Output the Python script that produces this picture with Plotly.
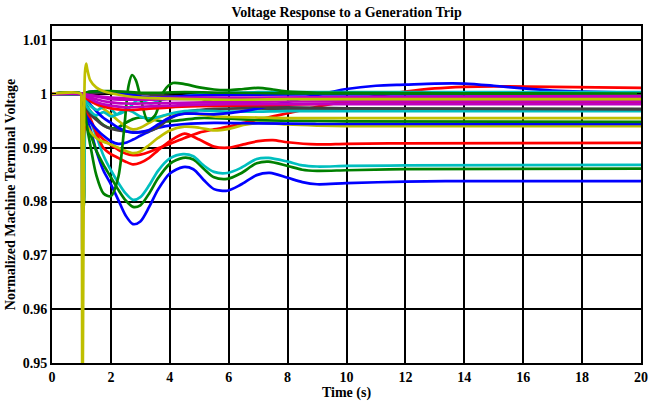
import plotly.graph_objects as go

# Time axis / voltage axis ticks
x_ticks = [0, 2, 4, 6, 8, 10, 12, 14, 16, 18, 20]
y_ticks = [0.95, 0.96, 0.97, 0.98, 0.99, 1.0, 1.01]
y_tick_text = ["0.95", "0.96", "0.97", "0.98", "0.99", "1", "1.01"]

# Machine terminal voltage traces, (time [s], per-unit voltage)
blue_low = [(0, 1.0), (0.98, 1.0), (1.0, 0.9995), (1.03, 0.9705), (1.08, 0.990), (1.15, 0.9955),
            (1.3, 0.9935), (1.5, 0.9895), (1.75, 0.9857), (2.0, 0.9832), (2.25, 0.9803), (2.5, 0.9774),
            (2.75, 0.9758), (3.0, 0.9763), (3.3, 0.9790), (3.6, 0.9822), (4.0, 0.9852), (4.45, 0.9864),
            (4.8, 0.9860), (5.15, 0.9840), (5.5, 0.9823), (5.95, 0.9820), (6.4, 0.9831), (6.95, 0.9849),
            (7.4, 0.9853), (8.0, 0.9844), (8.5, 0.9836), (9.0, 0.9832), (10, 0.9834), (12, 0.9837),
            (14, 0.9838), (20, 0.9838)]
green_low = [(0, 1.0), (0.98, 1.0), (1.0, 0.9995), (1.04, 0.9775), (1.09, 0.9800), (1.15, 0.9935),
             (1.3, 0.9925), (1.5, 0.9895), (1.75, 0.9868), (2.0, 0.9845), (2.25, 0.9822), (2.5, 0.9802),
             (2.75, 0.9790), (3.0, 0.9793), (3.3, 0.9815), (3.6, 0.9843), (4.0, 0.9870), (4.45, 0.9881),
             (4.8, 0.9878), (5.15, 0.9861), (5.5, 0.9845), (5.95, 0.9842), (6.4, 0.9852), (6.95, 0.9871),
             (7.35, 0.9874), (8.0, 0.9866), (8.5, 0.9859), (9.0, 0.9857), (10, 0.9858), (12, 0.9860),
             (20, 0.9861)]
cyan_low = [(0, 1.0), (0.98, 1.0), (1.0, 0.9995), (1.05, 0.979), (1.1, 0.986), (1.17, 0.9965),
            (1.3, 0.9950), (1.5, 0.9922), (1.75, 0.9885), (2.0, 0.9858), (2.25, 0.9835), (2.5, 0.9815),
            (2.75, 0.9803), (3.0, 0.9808), (3.3, 0.9830), (3.6, 0.9857), (4.0, 0.9880), (4.45, 0.9888),
            (4.8, 0.9884), (5.15, 0.9867), (5.5, 0.9855), (5.95, 0.9853), (6.4, 0.9862), (6.95, 0.9879),
            (7.35, 0.9881), (8.0, 0.9874), (8.5, 0.9867), (9.0, 0.9865), (10, 0.9866), (12, 0.9867),
            (20, 0.9868)]
red_low = [(0, 1.0), (0.98, 1.0), (1.0, 0.9995), (1.04, 0.9875), (1.09, 0.993), (1.2, 0.9965),
           (1.35, 0.9948), (1.5, 0.9928), (1.75, 0.9899), (2.0, 0.9888), (2.25, 0.9881), (2.5, 0.9874),
           (2.75, 0.9869), (3.0, 0.9872), (3.3, 0.9881), (3.6, 0.9895), (4.0, 0.9912), (4.5, 0.9926),
           (5.0, 0.9915), (5.5, 0.9902), (6.0, 0.9900), (6.5, 0.9906), (7.0, 0.9912), (7.5, 0.9914),
           (8.0, 0.9910), (9.0, 0.9906), (10, 0.9907), (12, 0.9908), (20, 0.9909)]
red_top = [(0, 1.0), (0.98, 1.0), (1.05, 0.9985), (1.15, 0.9970), (1.3, 0.9950), (1.5, 0.9932),
           (1.75, 0.9915), (2.0, 0.9905), (2.25, 0.9896), (2.5, 0.9889), (2.75, 0.9886), (3.0, 0.9887),
           (3.3, 0.9892), (3.6, 0.9899), (4.0, 0.9907), (4.5, 0.9918), (5.0, 0.9928), (5.5, 0.9934),
           (6.0, 0.9939), (6.5, 0.9946), (7.0, 0.9952), (7.5, 0.9958), (8.0, 0.9964), (9.0, 0.9976),
           (10, 0.9986), (11, 0.9996), (12, 1.0004), (13, 1.0010), (14, 1.0013), (15, 1.0014),
           (17, 1.0013), (20, 1.0011)]
yellow_low = [(0, 1.0), (0.98, 1.0), (1.0, 0.9995), (1.04, 0.9957), (1.15, 0.9945), (1.3, 0.9930),
              (1.5, 0.9918), (1.75, 0.9911), (2.0, 0.9906), (2.25, 0.9900), (2.5, 0.9894), (2.75, 0.9890),
              (3.0, 0.9893), (3.3, 0.9905), (3.6, 0.9918), (4.0, 0.9932), (4.5, 0.9939), (5.0, 0.9937),
              (5.5, 0.9932), (6.0, 0.9935), (6.5, 0.9942), (7.0, 0.9946), (7.5, 0.9945), (8.0, 0.9943),
              (9.0, 0.9941), (10, 0.9940), (20, 0.9940)]
blue_mid = [(0, 1.0), (1.0, 1.0), (1.05, 0.9975), (1.15, 0.9960), (1.3, 0.9948), (1.5, 0.9935),
            (1.75, 0.9922), (2.0, 0.9912), (2.25, 0.9907), (2.5, 0.9909), (2.75, 0.9915), (3.0, 0.9922),
            (3.3, 0.9930), (3.6, 0.9937), (4.0, 0.9941), (4.5, 0.9944), (5.5, 0.9946), (7.0, 0.9945),
            (9, 0.9944), (20, 0.9944)]
green_mid = [(0, 1.0), (1.0, 1.0), (1.1, 0.9985), (1.3, 0.9968), (1.5, 0.9955), (1.75, 0.9942),
             (2.0, 0.9936), (2.25, 0.9938), (2.5, 0.9946), (2.75, 0.9953), (3.0, 0.9956), (3.3, 0.9954),
             (3.6, 0.9950), (4.0, 0.9949), (4.5, 0.9952), (5.0, 0.9955), (6.0, 0.9954), (7.0, 0.9951),
             (8.0, 0.9950), (10, 0.9949), (20, 0.9948)]
yellow_mid = [(0, 1.0), (1.0, 1.0), (1.15, 0.9992), (1.3, 0.9987), (1.5, 0.9981), (1.75, 0.9972),
              (2.0, 0.9962), (2.25, 0.9950), (2.5, 0.9940), (2.75, 0.9934), (3.0, 0.9937), (3.3, 0.9946),
              (3.6, 0.9955), (4.0, 0.9962), (4.5, 0.9965), (5.0, 0.9962), (5.5, 0.9958), (6.0, 0.9957),
              (7.0, 0.9956), (8, 0.9955), (20, 0.9955)]
gray_mid = [(0, 1.0), (1.0, 1.0), (1.15, 0.9975), (1.3, 0.9962), (1.5, 0.9952), (1.75, 0.9941),
            (2.0, 0.9935), (2.25, 0.9932), (2.5, 0.9930), (2.75, 0.9929), (3.0, 0.9929), (3.3, 0.9931),
            (3.6, 0.9938), (4.0, 0.9954), (4.5, 0.9966), (5.0, 0.9970), (5.5, 0.9972), (6.5, 0.9973),
            (8, 0.9972), (20, 0.9972)]
cyan_mid = [(0, 1.0), (1.0, 1.0), (1.08, 0.9985), (1.2, 0.9975), (1.35, 0.9965), (1.5, 0.9960),
            (1.75, 0.9966), (2.0, 0.9958), (2.25, 0.9963), (2.5, 0.9971), (2.75, 0.9966), (3.0, 0.9958),
            (3.3, 0.9954), (3.6, 0.9957), (4.0, 0.9963), (4.5, 0.9968), (5.0, 0.9969), (6.0, 0.9967),
            (7.0, 0.9967), (8, 0.9968), (20, 0.9968)]
blue_top = [(0, 1.0), (1.0, 1.0), (1.05, 0.9995), (1.15, 0.9990), (1.3, 0.9980), (1.5, 0.9968),
            (1.75, 0.9955), (2.0, 0.9946), (2.25, 0.9937), (2.5, 0.9931), (2.75, 0.9928), (3.0, 0.9929),
            (3.3, 0.9933), (3.6, 0.9943), (4.0, 0.9956), (4.5, 0.9963), (5.0, 0.9963), (5.5, 0.9962),
            (6.0, 0.9964), (6.5, 0.9968), (7.0, 0.9973), (7.5, 0.9979), (8.0, 0.9985), (9.0, 0.9998),
            (10, 1.0009), (11, 1.0015), (12, 1.0017), (13, 1.0019), (14, 1.0019), (15, 1.0015),
            (16, 1.0010), (17, 1.0006), (18, 1.0004), (20, 1.0002)]
cyan_hi = [(0, 1.0), (1.0, 1.0), (1.1, 0.9990), (1.3, 0.9978), (1.53, 0.9970), (1.87, 0.9979),
           (2.2, 0.9962), (2.55, 0.9970), (2.9, 0.9988), (3.33, 0.9982), (3.8, 0.9990), (4.5, 0.9996),
           (5.5, 1.0001), (7, 1.0003), (20, 1.0003)]
green_osc = [(0, 1.0), (1.0, 1.0), (1.08, 0.9980), (1.2, 0.9935), (1.3, 0.9905), (1.5, 0.9850),
             (1.75, 0.9815), (2.0, 0.9810), (2.25, 0.9845), (2.45, 0.9935), (2.6, 1.0015), (2.72, 1.0035),
             (2.85, 1.0025), (3.0, 0.9995), (3.25, 0.9950), (3.5, 0.9960), (3.8, 1.0005), (4.1, 1.0020),
             (4.5, 1.0018), (5.0, 1.0012), (5.5, 1.0008), (6.0, 1.0007), (6.5, 1.0009), (7.0, 1.0011),
             (7.5, 1.0008), (8.0, 1.0004), (9.0, 1.0002), (10, 1.0002), (14, 1.0001), (20, 1.0000)]
gray_hi = [(0, 1.0), (1.0, 1.0), (1.5, 1.0002), (2.0, 1.0004), (2.5, 1.0003), (3.0, 1.0000),
           (4.0, 0.9996), (5.0, 0.9992), (5.5, 0.9984), (6.0, 0.9978), (7, 0.9976), (8, 0.9975),
           (10, 0.9973), (20, 0.9971)]
blue_hi = [(0, 1.0), (1.0, 1.0), (1.2, 1.0003), (1.6, 1.0005), (2.0, 1.0003), (2.5, 1.0000),
           (3.0, 0.9995), (3.5, 0.9993), (4.5, 0.9996), (6, 0.9998), (10, 0.9999), (20, 0.9999)]
green_hi = [(0, 1.0), (1.0, 1.0), (1.3, 1.0004), (2.0, 1.0005), (3.0, 1.0002), (4.5, 1.0003),
            (6, 1.0002), (8, 1.0001), (20, 1.0000)]
red_band = [(0, 1.0), (1.0, 1.0), (1.15, 0.9992), (1.5, 0.9981), (2.0, 0.9973), (2.5, 0.9970),
            (3.0, 0.9971), (4.0, 0.9975), (5, 0.9977), (6, 0.9978), (8, 0.9980), (10, 0.9982), (20, 0.9983)]
magenta_a = [(0, 1.0), (1.0, 1.0), (1.2, 0.9994), (1.5, 0.9985), (2.0, 0.9978), (2.5, 0.9975),
             (3.0, 0.9976), (4.0, 0.9978), (5, 0.9980), (7, 0.9981), (10, 0.9981), (20, 0.9981)]
magenta_b = [(0, 1.0), (1.0, 1.0), (1.2, 0.9996), (1.5, 0.9990), (2.0, 0.9984), (2.5, 0.9982),
             (3.0, 0.9982), (4.0, 0.9983), (6, 0.9985), (10, 0.9986), (20, 0.9986)]
magenta_c = [(0, 1.0), (1.0, 1.0), (1.2, 0.9998), (1.5, 0.9995), (2.0, 0.9990), (3.0, 0.9989),
             (4.0, 0.9990), (6, 0.9992), (10, 0.9994), (20, 0.9996)]
magenta_d = [(0, 1.0), (1.0, 1.0), (1.3, 0.9997), (2.0, 0.9993), (3.0, 0.9992), (5, 0.9993),
             (10, 0.9992), (20, 0.9992)]
yellow_hi = [(0, 1.0), (0.98, 1.0), (1.0, 0.998), (1.03, 0.93), (1.07, 0.975), (1.12, 1.0040),
             (1.16, 1.0056), (1.2, 1.0045), (1.3, 1.0025), (1.5, 1.0012), (1.75, 1.0005), (2.0, 1.0001),
             (2.5, 0.9996), (3.0, 0.9993), (4, 0.9991), (6, 0.9989), (8, 0.9990), (20, 0.9990)]

BLUE, GREEN, RED = "#0000FF", "#008000", "#FF0000"
CYAN, MAGENTA, YELLOW, GRAY = "#00BFBF", "#BF00BF", "#BFBF00", "#404040"

traces = [
    (blue_low, BLUE), (green_low, GREEN), (cyan_low, CYAN), (red_low, RED), (red_top, RED),
    (yellow_low, YELLOW), (blue_mid, BLUE), (green_mid, GREEN), (yellow_mid, YELLOW),
    (gray_mid, GRAY), (cyan_mid, CYAN), (blue_top, BLUE), (cyan_hi, CYAN), (green_osc, GREEN),
    (gray_hi, GRAY), (blue_hi, BLUE), (green_hi, GREEN), (red_band, RED), (magenta_a, MAGENTA),
    (magenta_b, MAGENTA), (magenta_c, MAGENTA), (magenta_d, MAGENTA), (yellow_hi, YELLOW),
]

fig = go.Figure()
for pts, color in traces:
    fig.add_trace(go.Scatter(
        x=[p[0] for p in pts], y=[p[1] for p in pts], mode="lines",
        line=dict(color=color, width=2.7, shape="spline", smoothing=0.8),
        showlegend=False, hoverinfo="skip",
    ))

serif = "Liberation Serif"
tick_font = dict(family=serif, size=14, color="black", weight="bold")
title_font = dict(family=serif, size=14, color="black", weight="bold")
axis_common = dict(
    showgrid=True, gridcolor="black", showline=True, linecolor="black", linewidth=2,
    mirror="ticks", ticks="inside", ticklen=4, tickcolor="black", tickwidth=1,
    zeroline=False, tickfont=tick_font, automargin=False,
)

fig.update_layout(
    width=649, height=401,
    margin=dict(l=52, r=8, t=26, b=38),
    paper_bgcolor="white", plot_bgcolor="white",
    title=dict(text="Voltage Response to a Generation Trip", x=0.534, xanchor="center",
               y=0.97, yanchor="middle",
               font=dict(family=serif, size=14, color="black", weight="bold")),
    xaxis=dict(range=[0, 20], tickvals=x_ticks, gridwidth=1.5,
               title=dict(text="Time (s)", standoff=0, font=title_font),
               **axis_common),
    yaxis=dict(range=[0.95, 1.0126], tickvals=y_ticks, ticktext=y_tick_text, gridwidth=2,
               title=dict(text="Normalized Machine Terminal Voltage", standoff=4, font=title_font),
               **axis_common),
)

fig.write_html("out.html")
